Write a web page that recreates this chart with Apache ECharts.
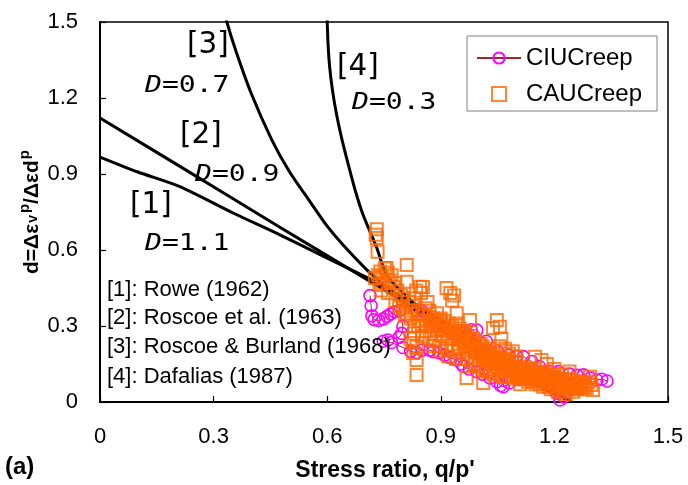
<!DOCTYPE html>
<html>
<head>
<meta charset="utf-8">
<script src="https://cdn.jsdelivr.net/npm/echarts@6/dist/echarts.min.js"></script>
<style>
  html, body { margin: 0; padding: 0; background: #fff; }
  #chart { width: 688px; height: 485px; }
</style>
</head>
<body>
<div id="chart"></div>
<script>
// Axis tick labels
const xTickLabels = ['0', '0.3', '0.6', '0.9', '1.2', '1.5'];
const yTickLabels = ['0', '0.3', '0.6', '0.9', '1.2', '1.5'];

// Dilatancy relations, [stress ratio, d]
const rowe = [[0, 0.967], [0.1, 0.908], [0.211, 0.85], [0.35, 0.747], [0.475, 0.66], [0.6, 0.568],
  [0.72, 0.48], [0.85, 0.368], [1.0, 0.237], [1.12, 0.124], [1.245, 0]];
const roscoe = [[0, 1.121], [0.211, 0.93], [0.475, 0.69], [0.72, 0.47], [1.0, 0.22], [1.245, 0]];
const roscoeBurland = [[0.33, 1.54], [0.335, 1.5], [0.36, 1.381], [0.4, 1.216], [0.454, 1.034],
  [0.5, 0.91], [0.555, 0.79], [0.6, 0.694], [0.642, 0.62], [0.713, 0.51], [0.8, 0.398],
  [0.9, 0.288], [1.0, 0.193], [1.1, 0.108], [1.245, 0]];
const dafalias = [[0.597, 1.56], [0.6, 1.5], [0.602, 1.42], [0.606, 1.33], [0.614, 1.23],
  [0.625, 1.133], [0.64, 1.03], [0.656, 0.936], [0.675, 0.83], [0.695, 0.738], [0.731, 0.608],
  [0.757, 0.5], [0.8, 0.43], [0.85, 0.365], [0.924, 0.284], [1.05, 0.16], [1.15, 0.08], [1.245, 0]];

// CIU creep tests (two test paths)
const ciuTestA = [[0.713, 0.42], [0.716, 0.38], [0.718, 0.34], [0.724, 0.325], [0.736, 0.322],
  [0.748, 0.328], [0.758, 0.338], [0.768, 0.348], [0.778, 0.356], [0.79, 0.36], [0.8, 0.3],
  [0.797, 0.271], [0.79, 0.255], [0.76, 0.245], [0.748, 0.24], [0.77, 0.235], [0.8, 0.215],
  [0.82, 0.2], [0.836, 0.195], [0.85, 0.205], [0.871, 0.205], [0.88, 0.199], [0.895, 0.195],
  [0.91, 0.185], [0.925, 0.175], [0.942, 0.166], [0.955, 0.15], [0.96, 0.14], [0.975, 0.13],
  [0.995, 0.12], [1.01, 0.11], [1.03, 0.095], [1.048, 0.08], [1.058, 0.065], [1.065, 0.06],
  [1.08, 0.075], [1.1, 0.09], [1.118, 0.1], [1.14, 0.11], [1.165, 0.115], [1.188, 0.12],
  [1.21, 0.12], [1.24, 0.11], [1.26, 0.105], [1.277, 0.107], [1.295, 0.095], [1.312, 0.087],
  [1.325, 0.09], [1.339, 0.083]];
const ciuTestB = [[0.836, 0.363], [0.85, 0.36], [0.87, 0.32], [0.898, 0.284], [0.93, 0.27],
  [0.96, 0.275], [0.98, 0.285], [0.995, 0.284], [1.02, 0.24], [1.05, 0.2], [1.08, 0.185],
  [1.1, 0.18], [1.118, 0.179], [1.14, 0.16], [1.16, 0.14], [1.18, 0.1], [1.195, 0.06],
  [1.206, 0.035], [1.215, 0.008], [1.225, 0.02], [1.24, 0.05], [1.25, 0.06]];

// CAU creep tests
const cauCreep = [
  [0.731, 0.682], [0.728, 0.66], [0.731, 0.647], [0.733, 0.593], [0.726, 0.489], [0.733, 0.5],
  [0.74, 0.515], [0.745, 0.495], [0.752, 0.528], [0.757, 0.529], [0.76, 0.51], [0.748, 0.47],
  [0.738, 0.462], [0.765, 0.48], [0.77, 0.5], [0.775, 0.455], [0.742, 0.44], [0.76, 0.43],
  [0.78, 0.47], [0.785, 0.44],
  [0.81, 0.541], [0.81, 0.475], [0.795, 0.42], [0.78, 0.4], [0.79, 0.38], [0.8, 0.41],
  [0.815, 0.395], [0.825, 0.38], [0.83, 0.41], [0.835, 0.44], [0.845, 0.455], [0.848, 0.43],
  [0.853, 0.454], [0.82, 0.36], [0.84, 0.35], [0.805, 0.34], [0.827, 0.233], [0.836, 0.218],
  [0.827, 0.193], [0.836, 0.166], [0.836, 0.107], [0.83, 0.3], [0.845, 0.32], [0.855, 0.34],
  [0.86, 0.37], [0.865, 0.395], [0.87, 0.337],
  [0.898, 0.324], [0.915, 0.45], [0.925, 0.43], [0.93, 0.4], [0.935, 0.42], [0.942, 0.35],
  [0.88, 0.3], [0.89, 0.28], [0.9, 0.31], [0.905, 0.26], [0.91, 0.29], [0.92, 0.27],
  [0.93, 0.25], [0.94, 0.28], [0.945, 0.23], [0.95, 0.26], [0.885, 0.24], [0.875, 0.27],
  [0.895, 0.22], [0.915, 0.21], [0.935, 0.2], [0.95, 0.21],
  [0.968, 0.095], [0.977, 0.324], [0.96, 0.24], [0.97, 0.22], [0.975, 0.2], [0.985, 0.25],
  [0.99, 0.18], [0.995, 0.21], [1.0, 0.19], [1.005, 0.23], [1.01, 0.17], [1.012, 0.075],
  [1.015, 0.2], [1.02, 0.15], [1.025, 0.18], [1.03, 0.21], [1.035, 0.16], [1.038, 0.292],
  [1.04, 0.14], [1.045, 0.19], [1.048, 0.324], [1.05, 0.17], [1.056, 0.297], [1.06, 0.25],
  [1.055, 0.22], [0.965, 0.27], [0.98, 0.16], [1.0, 0.14], [1.02, 0.12], [1.04, 0.11],
  [1.065, 0.15], [1.07, 0.13], [1.075, 0.17], [1.08, 0.12], [1.085, 0.14], [1.09, 0.11],
  [1.095, 0.16], [1.1, 0.13], [1.105, 0.1], [1.11, 0.14], [1.115, 0.12], [1.12, 0.09],
  [1.125, 0.11], [1.13, 0.13], [1.135, 0.1], [1.14, 0.08], [1.145, 0.12], [1.149, 0.179],
  [1.15, 0.09], [1.07, 0.21], [1.08, 0.19], [1.09, 0.2], [1.1, 0.18], [1.06, 0.1], [1.11, 0.07],
  [1.155, 0.11], [1.16, 0.07], [1.166, 0.166], [1.17, 0.1], [1.175, 0.08], [1.18, 0.12],
  [1.185, 0.06], [1.19, 0.09], [1.195, 0.11], [1.2, 0.07], [1.205, 0.05], [1.21, 0.09],
  [1.215, 0.06], [1.22, 0.08], [1.225, 0.04], [1.23, 0.07], [1.235, 0.05], [1.24, 0.09],
  [1.245, 0.06], [1.25, 0.04], [1.255, 0.07], [1.26, 0.05], [1.27, 0.08], [1.28, 0.06],
  [1.294, 0.1], [1.298, 0.067], [1.302, 0.047], [1.18, 0.15], [1.2, 0.13], [1.22, 0.11],
  [1.24, 0.12],
  [0.87, 0.36], [0.88, 0.33], [0.89, 0.35], [0.9, 0.33], [0.91, 0.32], [0.92, 0.31],
  [0.93, 0.3], [0.94, 0.31], [0.95, 0.29], [0.96, 0.28], [0.97, 0.26], [0.98, 0.25],
  [0.99, 0.24], [1.0, 0.23], [1.01, 0.22], [1.02, 0.2], [1.03, 0.19], [1.04, 0.18],
  [1.05, 0.15], [1.06, 0.14], [1.07, 0.16], [1.08, 0.15], [1.09, 0.13], [1.1, 0.12],
  [1.11, 0.11], [1.12, 0.12], [1.13, 0.1], [1.14, 0.11], [1.15, 0.1], [1.16, 0.09],
  [1.17, 0.11], [1.18, 0.08], [1.19, 0.07], [1.2, 0.09], [1.21, 0.07], [1.22, 0.06],
  [1.23, 0.06], [1.24, 0.07], [1.26, 0.06], [1.27, 0.05], [1.28, 0.07], [1.29, 0.08],
  [0.96, 0.19], [0.97, 0.17], [0.99, 0.15], [1.01, 0.13], [1.03, 0.12], [1.05, 0.12],
  [1.07, 0.1], [1.09, 0.09], [1.11, 0.09], [1.13, 0.08], [1.15, 0.07], [1.17, 0.06],
  [1.19, 0.05], [1.21, 0.04], [1.23, 0.03], [0.86, 0.28], [0.87, 0.25], [0.88, 0.22],
  [0.9, 0.2], [0.92, 0.18], [0.94, 0.17], [0.85, 0.26], [0.8, 0.37], [0.81, 0.35],
  [0.82, 0.33], [0.84, 0.3], [0.85, 0.3], [0.86, 0.31], [0.83, 0.27], [0.82, 0.25],
  [0.955, 0.245], [0.965, 0.225], [0.975, 0.235], [0.985, 0.215], [0.995, 0.195], [1.005, 0.205],
  [1.015, 0.185], [1.025, 0.165], [1.035, 0.175], [1.045, 0.155], [1.055, 0.165], [1.065, 0.135],
  [1.075, 0.145], [1.085, 0.125], [1.095, 0.135], [1.105, 0.115], [1.115, 0.105], [1.125, 0.125],
  [1.135, 0.115], [1.145, 0.095], [1.155, 0.085], [1.165, 0.095], [1.175, 0.105], [1.185, 0.085],
  [1.195, 0.075], [1.205, 0.085], [1.215, 0.075], [1.225, 0.065], [1.235, 0.075], [1.245, 0.085],
  [1.255, 0.055], [1.265, 0.075], [1.275, 0.065], [1.285, 0.055], [0.905, 0.3], [0.915, 0.28],
  [0.925, 0.29], [0.935, 0.27], [0.945, 0.26], [0.955, 0.27], [0.895, 0.3], [0.885, 0.32],
  [0.875, 0.31], [1.0, 0.16], [1.02, 0.17], [1.04, 0.13], [1.06, 0.12], [1.08, 0.1],
  [1.1, 0.1], [1.12, 0.1], [1.14, 0.09], [1.16, 0.1], [1.18, 0.1], [1.2, 0.1], [1.22, 0.09]];

// Annotation texts
const curveTags = ['[1]', '[2]', '[3]', '[4]'];
const curveD = ['1.1', '0.9', '0.7', '0.3'];
const sources = ['[1]: Rowe (1962)', '[2]: Roscoe et al. (1963)', '[3]: Roscoe & Burland (1968)', '[4]: Dafalias (1987)'];

const chart = echarts.init(document.getElementById('chart'));
const sans = 'Liberation Sans, Arial, sans-serif';
const ORANGE = '#FF6600';
const MAGENTA = '#FF00FF';

function curve(data) {
  return {
    type: 'line', data: data, showSymbol: false, symbol: 'none', smooth: 0.25,
    lineStyle: { color: '#000', width: 3 }, z: 2, silent: true, clip: true
  };
}

// label anchors (pixel) for each curve: tag and D value
const tagPos = [[130, 205], [180, 135], [187, 45], [337, 67]];
const dPos = [[145, 244], [195, 175], [145, 86], [352, 103]];

const graphics = [];
curveTags.forEach((t, i) => {
  graphics.push({
    type: 'text', x: tagPos[i][0], y: tagPos[i][1], scaleX: 0.95,
    style: { text: t, font: '31px "DejaVu Sans"', fill: '#000', align: 'left', verticalAlign: 'middle',
      textAlign: 'left', textVerticalAlign: 'middle' }, z: 10
  });
  graphics.push({
    type: 'text', x: dPos[i][0], y: dPos[i][1], scaleX: 1.22,
    style: {
      text: '{i|D}{n|=' + curveD[i] + '}',
      rich: {
        i: { font: 'italic 23px "DejaVu Sans Mono"', fill: '#000', verticalAlign: 'middle' },
        n: { font: '23px "DejaVu Sans Mono"', fill: '#000', verticalAlign: 'middle' }
      },
      align: 'left', verticalAlign: 'middle', textAlign: 'left', textVerticalAlign: 'middle'
    }, z: 10
  });
});
const srcY = [290, 318, 347, 377];
sources.forEach((s, i) => {
  graphics.push({
    type: 'text', x: 107, y: srcY[i],
    style: { text: s, font: '22px ' + sans, fill: '#000', align: 'left', verticalAlign: 'middle',
      textAlign: 'left', textVerticalAlign: 'middle' }, z: 10
  });
});
// y-axis title
graphics.push({
  type: 'text', x: 30, y: 212, rotation: Math.PI / 2,
  style: {
    text: '{b|d=Δε}{v|v}{p|p}{b|/Δε}{b|d}{p|p}',
    rich: {
      b: { font: 'bold 21px ' + sans, fill: '#000', verticalAlign: 'bottom' },
      v: { font: 'bold 14px ' + sans, fill: '#000', verticalAlign: 'bottom', padding: [0, 1, 3, 1] },
      p: { font: 'bold 15px ' + sans, fill: '#000', verticalAlign: 'bottom', padding: [0, 0, 11, 1] }
    },
    align: 'center', verticalAlign: 'middle', textAlign: 'center', textVerticalAlign: 'middle'
  }, z: 10
});
// x-axis title
graphics.push({
  type: 'text', x: 385, y: 471,
  style: { text: "Stress ratio, q/p'", font: 'bold 23px ' + sans, fill: '#000', align: 'center',
    verticalAlign: 'middle', textAlign: 'center', textVerticalAlign: 'middle' }, z: 10
});
// panel label
graphics.push({
  type: 'text', x: 5, y: 467,
  style: { text: '(a)', font: 'bold 24px ' + sans, fill: '#000', align: 'left',
    verticalAlign: 'middle', textAlign: 'left', textVerticalAlign: 'middle' }, z: 10
});

const axisCommon = {
  type: 'value', min: 0, max: 1.5, interval: 0.3,
  axisLine: { show: true, onZero: false, lineStyle: { color: '#000', width: 2 } },
  axisTick: { show: true, inside: true, length: 6, lineStyle: { color: '#000', width: 1.2 } },
  splitLine: { show: false }
};

chart.setOption({
  animation: false,
  backgroundColor: '#fff',
  grid: { left: 100, top: 22, right: 20, bottom: 83, show: true, borderColor: '#000', borderWidth: 1.5, backgroundColor: 'transparent' },
  xAxis: Object.assign({}, axisCommon, {
    axisLabel: { fontSize: 22, fontFamily: sans, color: '#000', margin: 24,
      formatter: v => xTickLabels[Math.round(v / 0.3)] }
  }),
  yAxis: Object.assign({}, axisCommon, {
    axisLabel: { fontSize: 22, fontFamily: sans, color: '#000', margin: 22,
      formatter: v => yTickLabels[Math.round(v / 0.3)] }
  }),
  legend: {
    orient: 'vertical', left: 467, top: 36,
    padding: [10, 15, 5, 9], itemGap: 12, itemWidth: 44, itemHeight: 14,
    symbolKeepAspect: true,
    borderColor: '#808080', borderWidth: 1, backgroundColor: '#fff',
    textStyle: { fontSize: 24, fontFamily: sans, color: '#000' },
    data: [
      { name: 'CIUCreep' },
      { name: 'CAUCreep', icon: 'path://M0,0H10V10H0Z',
        itemStyle: { color: 'rgba(0,0,0,0)', borderColor: ORANGE, borderWidth: 2 } }
    ]
  },
  series: [
    curve(rowe), curve(roscoe), curve(roscoeBurland), curve(dafalias),
    {
      name: 'CIUCreep', type: 'line', data: ciuTestA, symbol: 'circle', symbolSize: 12,
      itemStyle: { color: 'rgba(0,0,0,0)', borderColor: MAGENTA, borderWidth: 1.6 },
      lineStyle: { color: '#A0282D', width: 1 }, z: 3
    },
    {
      name: 'CIUCreep', type: 'line', data: ciuTestB, symbol: 'circle', symbolSize: 12,
      itemStyle: { color: 'rgba(0,0,0,0)', borderColor: MAGENTA, borderWidth: 1.6 },
      lineStyle: { color: '#A0282D', width: 1 }, z: 3
    },
    {
      name: 'CAUCreep', type: 'scatter', data: cauCreep, symbol: 'rect', symbolSize: 12,
      itemStyle: { color: 'rgba(0,0,0,0)', borderColor: ORANGE, borderWidth: 2 }, z: 4
    }
  ],
  graphic: graphics
});
</script>
</body>
</html>
